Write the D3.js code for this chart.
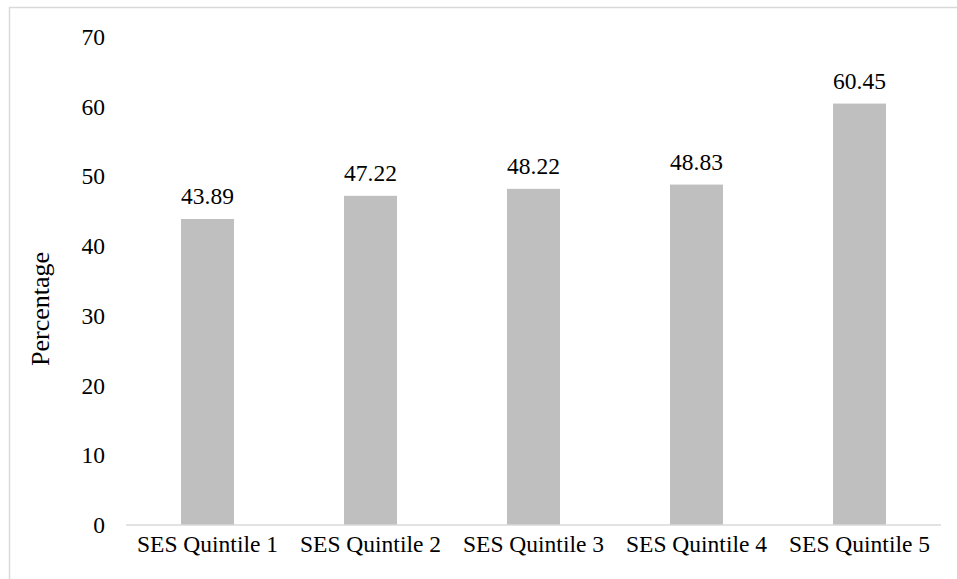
<!DOCTYPE html>
<html>
<head>
<meta charset="utf-8">
<script src="https://cdn.jsdelivr.net/npm/d3@7"></script>
<style>
  html, body { margin: 0; padding: 0; background: #fff; }
  svg { display: block; }
</style>
</head>
<body>
<div id="chart"></div>
<script>
// Share of respondents by socio-economic status quintile
const categories = ["SES Quintile 1", "SES Quintile 2", "SES Quintile 3", "SES Quintile 4", "SES Quintile 5"];
const values = [43.89, 47.22, 48.22, 48.83, 60.45];
const yTicks = [0, 10, 20, 30, 40, 50, 60, 70];
const yTitle = "Percentage";

const FONT = "'Liberation Serif', 'Times New Roman', Times, serif";
const W = 957, H = 579;
const plot = { left: 126, right: 941, top: 37, bottom: 525 };

const svg = d3.select("#chart").append("svg")
  .attr("width", W).attr("height", H)
  .attr("font-family", FONT);

// chart frame
svg.append("rect")
  .attr("x", 9.5).attr("y", 7.5)
  .attr("width", W).attr("height", H)
  .attr("fill", "none")
  .attr("stroke", "#d9d9d9")
  .attr("stroke-width", 1.5);

const x = d3.scaleBand()
  .domain(categories)
  .range([plot.left, plot.right])
  .paddingInner(0.675)
  .paddingOuter(0.3375);

const y = d3.scaleLinear()
  .domain([0, 70])
  .range([plot.bottom, plot.top]);

// bars
svg.append("g").selectAll("rect")
  .data(values)
  .join("rect")
  .attr("x", (d, i) => x(categories[i]))
  .attr("y", d => y(d))
  .attr("width", x.bandwidth())
  .attr("height", d => y(0) - y(d))
  .attr("fill", "#bfbfbf");

// value labels
svg.append("g").selectAll("text")
  .data(values)
  .join("text")
  .attr("x", (d, i) => x(categories[i]) + x.bandwidth() / 2)
  .attr("y", d => y(d) - 15)
  .attr("text-anchor", "middle")
  .style("font-family", FONT)
  .style("font-size", "23.5px")
  .style("fill", "#000")
  .text(d => d.toFixed(2));

// y axis labels (no axis line)
const yAxis = d3.axisLeft(y).tickValues(yTicks).tickSize(0).tickPadding(21);
const gy = svg.append("g")
  .attr("transform", `translate(${plot.left},0)`)
  .call(yAxis)
  .attr("font-family", FONT);
gy.select(".domain").remove();
gy.selectAll("text")
  .style("font-family", FONT)
  .style("font-size", "23.5px")
  .attr("fill", "#000");

// x axis
const xAxis = d3.axisBottom(x).tickSize(0).tickPadding(10);
const gx = svg.append("g")
  .attr("transform", `translate(0,${plot.bottom})`)
  .call(xAxis)
  .attr("font-family", FONT);
gx.select(".domain")
  .attr("d", `M${plot.left},0H${plot.right}`)
  .attr("stroke", "#d9d9d9")
  .attr("stroke-width", 1.5);
gx.selectAll("text")
  .style("font-family", FONT)
  .style("font-size", "23.5px")
  .attr("fill", "#000");

// y axis title
svg.append("text")
  .attr("transform", `translate(49,309) rotate(-90)`)
  .attr("text-anchor", "middle")
  .style("font-family", FONT)
  .style("font-size", "26px")
  .style("fill", "#000")
  .text(yTitle);
</script>
</body>
</html>
